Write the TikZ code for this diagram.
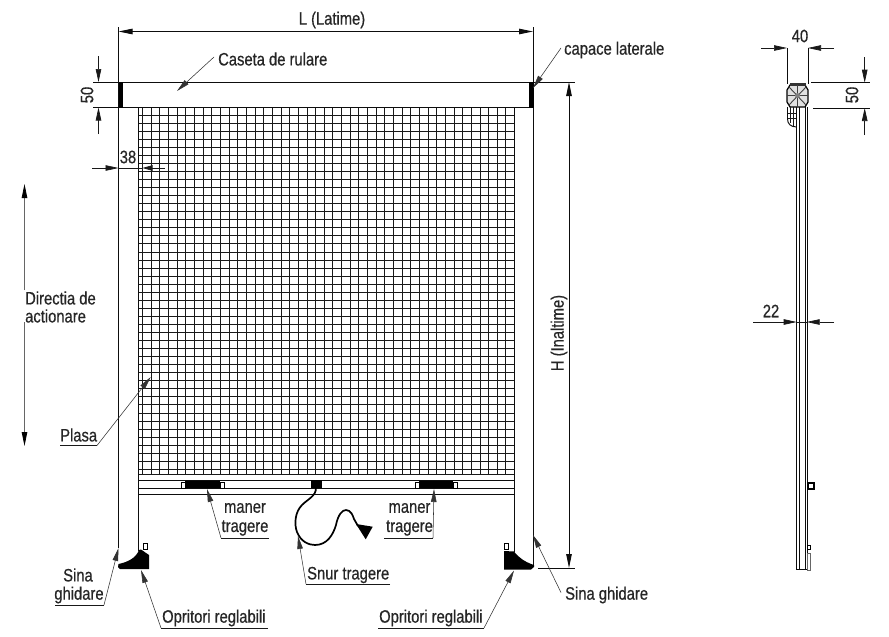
\documentclass[tikz,border=0pt]{standalone}
\usepackage{fontspec}
\setmainfont[FakeStretch=0.82,FakeBold=0.5]{Liberation Sans}
\usetikzlibrary{arrows.meta}
\tikzset{
  ln/.style={line width=0.95pt,black!95},
  thin ln/.style={line width=0.7pt,black!90},
  tip/.style={-{Triangle[length=13pt,width=5.5pt]}},
  lead/.style={line width=0.55pt,black!80,-{Triangle[length=13pt,width=5.5pt]}},
  lbl/.style={font=\fontsize{18}{20}\selectfont,text=black!85,inner sep=0pt},
  wsq/.style={draw=black,line width=0.6pt,fill=white},
}
\begin{document}
\begin{tikzpicture}[x=1pt,y=-1pt]
\useasboundingbox (0,0) rectangle (889,637);
\fill[white] (0,0) rectangle (889,637);
% mesh
\foreach \i in {0,...,42} \draw[thin ln] ({142.5+\i*8.65},107.5) -- ({142.5+\i*8.65},474);
\draw[thin ln] (138.5,107.5) -- (138.5,474);
\foreach \i in {0,...,44} \draw[thin ln] (138.5,{115+\i*8.05}) -- (514.5,{115+\i*8.05});
\draw[thin ln] (138.5,474) -- (514.5,474);
% frame
\draw[ln] (118.5,27) -- (118.5,548);
\draw[ln] (138.5,107.5) -- (138.5,551);
\draw[ln] (514.5,107.5) -- (514.5,552);
\draw[ln] (533,27) -- (533,565);
\draw[ln] (93,82) -- (575,82);
\draw[ln] (93,107.5) -- (533,107.5);
\fill[black] (118.5,82) rectangle (123,107.5);
\fill[black] (529.3,82) rectangle (533.5,107.5);
% bar
\foreach \y in {480.7,488.3,494} \draw[ln] (138.5,\y) -- (514.5,\y);
\fill[black] (185,480.7) rectangle (220,488.3);
\fill[black] (419,480.7) rectangle (453,488.3);
\fill[black] (311,480) rectangle (322,488.3);
\draw[wsq] (181,482) rectangle (185,488);
\draw[wsq] (220,482) rectangle (224,488);
\draw[wsq] (415,482) rectangle (419,488);
\draw[wsq] (453,482) rectangle (457,488);
% cord
\draw[line width=1.7pt,black] (316,488) .. controls (316,496) and (308,499) .. (302,505)
  .. controls (295,512) and (294,524) .. (297,532)
  .. controls (301,542) and (309,545) .. (315,545)
  .. controls (327,545) and (333,535) .. (336,525)
  .. controls (338,515) and (342,510) .. (346,510)
  .. controls (351,510) and (353,516) .. (354,519) -- (358,526);
\fill[black] (356,524) -- (372.7,526.7) -- (365.7,539.3) -- cycle;
% feet
\fill[black] (139,550) .. controls (136,558) and (128,562) .. (118.5,564) -- (118,567) -- (120,569) -- (149,569) -- (149,555) -- (141,549.5) -- cycle;
\draw[wsq] (143.5,543.5) rectangle (147.5,549);
\fill[black] (504,551) -- (514,551.5) .. controls (519,558) and (525,562) .. (534,565) -- (534,567) -- (531,569.5) -- (504,569.5) -- cycle;
\draw[wsq] (504.5,543.5) rectangle (508.5,549);
% L
\coordinate (La) at (118.5,31.5); \coordinate (Lb) at (533,31.5);
\draw[ln,{Triangle[length=14pt,width=5.5pt]}-{Triangle[length=14pt,width=5.5pt]}] (La) -- (Lb);
\node[lbl] (lt) at (332,20) {L (Latime)};
% H
\coordinate (Ha) at (569,82); \coordinate (Hb) at (569,568);
\draw[ln,{Triangle[length=14pt,width=5.5pt]}-{Triangle[length=14pt,width=5.5pt]}] (Ha) -- (Hb);
\draw[ln] (538,568) -- (575,568);
\node[lbl,rotate=90] (ht) at (559,333) {H (Inaltime)};
% 50 left
\coordinate (A1) at (98.5,56); \coordinate (A2) at (98.5,82);
\coordinate (A3) at (98.5,134); \coordinate (A4) at (98.5,107.5);
\draw[thin ln,tip] (A1) -- (A2);
\draw[thin ln,tip] (A3) -- (A4);
\node[lbl,rotate=90] (d50) at (87,95) {50};
% 38
\coordinate (B1) at (92,168); \coordinate (B2) at (118.5,168);
\coordinate (B3) at (165,168); \coordinate (B4) at (142.5,168);
\draw[thin ln,tip] (B1) -- (B2);
\draw[thin ln,{Triangle[length=10pt,width=5.5pt]}-] (B4) -- (B3);
\draw[thin ln] (B2) -- (B4);
\node[lbl] (d38) at (128,157) {38};
% Directia
\coordinate (C1) at (24.5,290); \coordinate (C2) at (24.5,184);
\coordinate (C3) at (24.5,322); \coordinate (C4) at (24.5,446);
\draw[line width=0.8pt,black!60,-{Triangle[length=14pt,width=5.5pt,fill=black,color=black]}] (C1) -- (C2);
\draw[line width=0.8pt,black!60,-{Triangle[length=14pt,width=5.5pt,fill=black,color=black]}] (C3) -- (C4);
\node[lbl,anchor=west] (dir1) at (25,298) {Directia de};
\node[lbl,anchor=west] (dir2) at (25,316) {actionare};
% labels with leaders
\node[lbl,anchor=west] (cas) at (218,59) {Caseta de rulare};
\coordinate (casa) at (214,57); \coordinate (casb) at (177,91);
\draw[lead] (casa) -- (casb);
\node[lbl,anchor=west] (cap) at (564,50) {capace laterale};
\coordinate (capa) at (561,48); \coordinate (capb) at (533,88);
\draw[lead] (capa) -- (capb);
\node[lbl,anchor=west] (pla) at (60,435) {Plasa};
\coordinate (plaa) at (60,445.5); \coordinate (plab) at (97,445.5); \coordinate (plac) at (150.7,377);
\draw[thin ln] (plaa) -- (plab);
\draw[lead] (plab) -- (plac);
\node[lbl] (m1a) at (245,508) {maner};
\node[lbl] (m1b) at (245,528) {tragere};
\coordinate (m1u) at (269,538); \coordinate (m1v) at (221,538); \coordinate (m1t) at (207,489);
\draw[thin ln] (m1u) -- (m1v);
\draw[lead] (m1v) -- (m1t);
\node[lbl] (m2a) at (409.5,508) {maner};
\node[lbl] (m2b) at (409.5,528) {tragere};
\coordinate (m2u) at (384,538); \coordinate (m2v) at (433,538); \coordinate (m2t) at (434,489);
\draw[thin ln] (m2u) -- (m2v);
\draw[lead] (m2v) -- (m2t);
\node[lbl,anchor=west] (sn) at (307,575) {Snur tragere};
\coordinate (snu) at (390,584); \coordinate (snv) at (306,584); \coordinate (snt) at (298,536);
\draw[thin ln] (snu) -- (snv);
\draw[lead] (snv) -- (snt);
\node[lbl] (s1a) at (78,575) {Sina};
\node[lbl] (s1b) at (79,595) {ghidare};
\coordinate (s1u) at (55,605); \coordinate (s1v) at (104,605); \coordinate (s1t) at (118.5,548);
\draw[thin ln] (s1u) -- (s1v);
\draw[lead] (s1v) -- (s1t);
\node[lbl,anchor=west] (o1) at (162,618) {Opritori reglabili};
\coordinate (o1u) at (268,628); \coordinate (o1v) at (161,628); \coordinate (o1t) at (141,570);
\draw[thin ln] (o1u) -- (o1v);
\draw[lead] (o1v) -- (o1t);
\node[lbl,anchor=west] (o2) at (379,618) {Opritori reglabili};
\coordinate (o2u) at (378,628); \coordinate (o2v) at (484,628); \coordinate (o2t) at (514,570.5);
\draw[thin ln] (o2u) -- (o2v);
\draw[lead] (o2v) -- (o2t);
\node[lbl,anchor=west] (s2) at (565,595) {Sina ghidare};
\coordinate (s2a) at (561,592.5); \coordinate (s2t) at (533,535);
\draw[lead] (s2a) -- (s2t);
% side view
\draw[ln] (787,48) -- (787,84);
\draw[ln] (808,48) -- (808,84);
\coordinate (E1) at (761,48); \coordinate (E2) at (787,48);
\coordinate (E3) at (834,48); \coordinate (E4) at (808,48);
\draw[thin ln,tip] (E1) -- (E2);
\draw[thin ln,tip] (E3) -- (E4);
\node[lbl] (d40) at (800,36) {40};
\draw[ln] (811,82.7) -- (870,82.7);
\draw[ln] (813,108) -- (870,108);
\coordinate (F1) at (864.7,57); \coordinate (F2) at (864.7,82.7);
\coordinate (F3) at (864.7,135); \coordinate (F4) at (864.7,108);
\draw[thin ln,tip] (F1) -- (F2);
\draw[thin ln,tip] (F3) -- (F4);
\node[lbl,rotate=90] (d50b) at (852,95) {50};
% cassette profile
\draw[line width=1.2pt,black,fill=black!12] (790,85) -- (805,85) -- (808,90) -- (808,102) -- (805,107) -- (790,107) -- (787,102) -- (787,90) -- cycle;
\fill[black!80] (790,82.7) rectangle (806,85.5);
\draw[line width=0.9pt,black!75] (789,87) -- (806,105) (806,87) -- (789,105) (797.5,85) -- (797.5,107) (787,95.5) -- (808,95.5);
\fill[black!50] (797.5,95.5) circle (2.5pt);
\draw[ln] (787.5,107) -- (787.5,119) .. controls (787.5,124) and (791,127) .. (796.7,127);
\draw[thin ln] (790.5,107) -- (790.5,123) (793.5,107) -- (793.5,125.5) (787.5,113) -- (796.7,113) (787.5,118) -- (796.7,118);
% rails
\draw[ln] (796.7,107) -- (796.7,569.5) -- (808,569.5);
\draw[ln] (799,107) -- (799,569.5);
\draw[ln] (805,107) -- (805,569.5);
\draw[ln] (807.3,107) -- (807.3,553);
\draw[wsq,line width=1.1pt] (808,483) rectangle (814,489);
\draw[wsq] (807.5,545) rectangle (810.5,549);
\draw[thin ln,black!60] (807.5,553) rectangle (810.5,570);
% 22
\coordinate (G1) at (753,322); \coordinate (G2) at (796.7,322);
\coordinate (G3) at (834,322); \coordinate (G4) at (806.7,322);
\draw[thin ln,tip] (G1) -- (G2);
\draw[thin ln,tip] (G3) -- (G4);
\draw[thin ln] (G2) -- (G4);
\node[lbl] (d22) at (771,311) {22};
\end{tikzpicture}
\end{document}
